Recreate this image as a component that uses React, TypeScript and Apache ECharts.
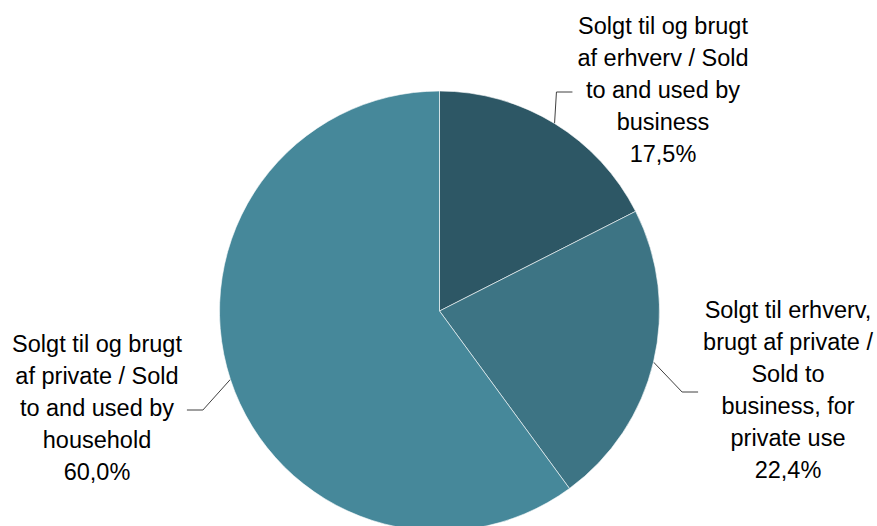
import React, { useEffect, useRef } from "react";
import * as echarts from "echarts";

// ---- data ----
const CATEGORIES: string[] = [
  "Solgt til og brugt\naf erhverv / Sold\nto and used by\nbusiness",
  "Solgt til erhverv,\nbrugt af private /\nSold to\nbusiness, for\nprivate use",
  "Solgt til og brugt\naf private / Sold\nto and used by\nhousehold",
];
const VALUES: number[] = [17.5, 22.4, 60.0];

// ---- styling / layout ----
const COLORS = ["#2D5765", "#3D7484", "#46889A"];
const LABEL_POS = [
  { x: 663, y: 90, side: 1 },
  { x: 788, y: 390, side: 1 },
  { x: 97, y: 408, side: -1 },
];

export default function App() {
  const ref = useRef<HTMLDivElement>(null);
  useEffect(() => {
    document.body.style.margin = "0";
    if (!ref.current) return;
    const chart = echarts.init(ref.current, undefined, { renderer: "svg" });
    const fmt = (v: number) => v.toFixed(1).replace(".", ",") + "%";
    chart.setOption({
      animation: false,
      backgroundColor: "#ffffff",
      series: [
        {
          type: "pie",
          center: [439.5, 311],
          radius: 220,
          startAngle: 90,
          clockwise: true,
          avoidLabelOverlap: false,
          itemStyle: { borderColor: "#ffffff", borderWidth: 0.6 },
          data: CATEGORIES.map((name, i) => ({
            name,
            value: VALUES[i],
            itemStyle: { color: COLORS[i] },
          })),
          label: {
            show: true,
            position: "outside",
            alignTo: "none",
            overflow: "none",
            formatter: (p: any) => p.name + "\n" + fmt(p.value),
            fontFamily: "Liberation Sans, Arial, sans-serif",
            fontSize: 23.5,
            lineHeight: 32,
            color: "#000000",
            align: "center",
          },
          labelLine: {
            show: true,
            length: 20,
            length2: 15,
            lineStyle: { color: "#404040", width: 1 },
          },
          labelLayout: (params: any) => {
            const pos = LABEL_POS[params.dataIndex];
            const w = params.labelRect.width;
            const lineY = pos.y + 2;
            const edge = pos.x - (pos.side * w) / 2;
            const endX = edge - pos.side * 5;
            const elbowX = endX - pos.side * 16;
            const anchor =
              params.labelLinePoints && params.labelLinePoints[0]
                ? params.labelLinePoints[0]
                : [elbowX, lineY];
            return {
              x: pos.x,
              y: pos.y,
              align: "center",
              verticalAlign: "middle",
              labelLinePoints: [
                [anchor[0], anchor[1]],
                [elbowX, lineY],
                [endX, lineY],
              ],
            };
          },
        },
      ],
    });
    return () => chart.dispose();
  }, []);
  return <div ref={ref} style={{ width: 877, height: 526 }} />;
}
